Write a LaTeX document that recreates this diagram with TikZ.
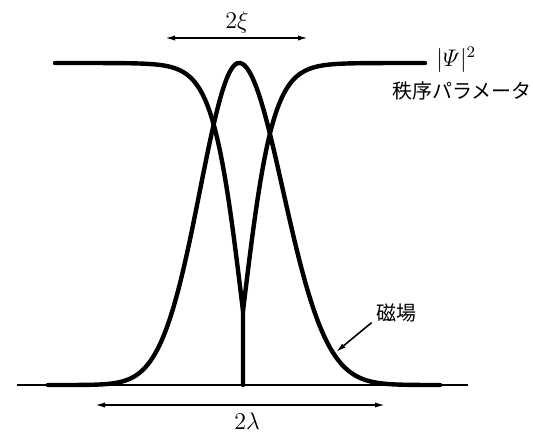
\documentclass[tikz,border=0pt]{standalone}
\usepackage{amsmath}
\usepackage{fontspec}
\usepackage{tikz}
\usetikzlibrary{arrows.meta, positioning}
\newfontfamily\jpfont{Noto Sans CJK JP}

\begin{document}
\begin{tikzpicture}[x=0.5pt, y=-0.5pt,
    curve/.style={line width=2.2pt, line join=round, line cap=round},
    dimline/.style={line width=0.8pt, {Latex[length=5pt,width=2.6pt]}-{Latex[length=5pt,width=2.6pt]}},
    pointer/.style={line width=0.8pt, -{Latex[length=5pt,width=2.6pt]}},
    jp/.style={font=\jpfont\fontsize{10}{12}\selectfont, inner sep=0pt},
    mathlbl/.style={font=\large, inner sep=0pt}]
    \useasboundingbox (0,0) rectangle (533,434);
    % base line
    \coordinate (baseL) at (17,385);
    \coordinate (baseR) at (468,385);
    \draw[line width=0.9pt] (baseL) -- (baseR);
    % magnetic field
    \draw[curve] plot[domain=48:239, samples=120, smooth] (\x, {385-322*exp(-((\x-239)/55)^2)})
      -- plot[domain=239:440, samples=120, smooth] (\x, {385-322*exp(-((\x-239)/62)^2)});
    % order parameter
    \coordinate (dip) at (243,385);
    \draw[curve] plot[domain=55:243, samples=120, smooth] (\x, {385-322*(0.23+0.77*tanh((243-\x)/30))}) -- (dip);
    \draw[curve] plot[domain=243:425, samples=120, smooth] (\x, {385-322*(0.23+0.77*tanh((\x-243)/30))});
    % 2 xi
    \node[mathlbl] (xi) at (237,22) {$2\xi$};
    \coordinate (xiL) at (165,38);
    \coordinate (xiR) at (308,38);
    \draw[dimline] (xiL) -- (xiR);
    % 2 lambda
    \node[mathlbl] (lam) at (247,421) {$2\lambda$};
    \coordinate (lamL) at (95,405);
    \coordinate (lamR) at (385,405);
    \draw[dimline] (lamL) -- (lamR);
    % labels
    \node[mathlbl, right] (psi) at (436,60) {$|\varPsi|^2$};
    \node[jp] (order) at (462,91) {秩序パラメータ};
    \node[jp] (field) at (396,313) {磁場};
    \coordinate (fieldpt) at (336,352);
    \draw[pointer] ([xshift=-2]field.south west) -- (fieldpt);
\end{tikzpicture}
\end{document}
